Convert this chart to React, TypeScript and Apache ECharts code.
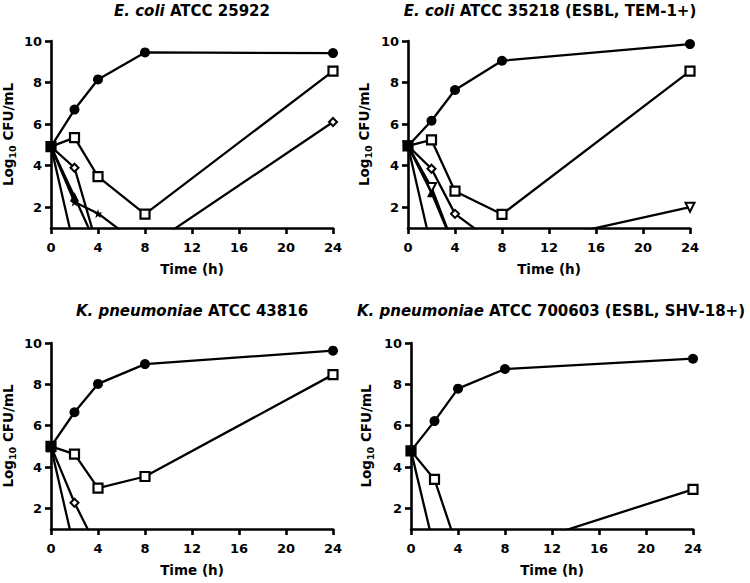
import React, { useEffect, useRef } from "react";
import * as echarts from "echarts";

const times = [0, 2, 4, 8, 24];
const xTickInterval = 4;
const yTicks = [2, 4, 6, 8, 10];

const titles = [
  ["E. coli", " ATCC 25922"],
  ["E. coli", " ATCC 35218 (ESBL, TEM-1+)"],
  ["K. pneumoniae", " ATCC 43816"],
  ["K. pneumoniae", " ATCC 700603 (ESBL, SHV-18+)"],
];

// E. coli ATCC 25922
const ec1Control = [4.92, 6.7, 8.15, 9.45, 9.42];
const ec1Square = [4.92, 5.35, 3.47, 1.67, 8.55];
const ec1Diamond = [4.92, 3.9, 0, 0, 6.1];
const ec1Triangle = [4.92, 2.5, 0, 0, 0];
const ec1Star = [4.92, 2.25, 1.7, 0, 0];
const ec1Zero = [4.92, 0, 0, 0, 0];

// E. coli ATCC 35218
const ec2Control = [4.95, 6.16, 7.64, 9.05, 9.85];
const ec2Square = [4.95, 5.24, 2.77, 1.66, 8.55];
const ec2Diamond = [4.95, 3.85, 1.68, 0, 0];
const ec2Triangle = [4.95, 2.7, 0, 0, 0];
const ec2InvTriangle = [4.95, 2.95, 0, 0, 2.0];
const ec2Zero = [4.95, 0, 0, 0, 0];

// K. pneumoniae ATCC 43816
const kp1Control = [5.0, 6.65, 8.02, 8.98, 9.63];
const kp1Square = [5.0, 4.62, 2.98, 3.54, 8.47];
const kp1Diamond = [5.0, 2.27, 0, 0, 0];
const kp1Zero = [4.95, 0, 0, 0, 0];

// K. pneumoniae ATCC 700603
const kp2Control = [4.78, 6.22, 7.79, 8.74, 9.24];
const kp2Square = [4.78, 3.4, 0, 0, 2.92];
const kp2Zero = [4.78, 0, 0, 0, 0];

const FONT = "'DejaVu Sans', 'Liberation Sans', Arial, sans-serif";
const STAR =
  "path://M50,0 L61,35 L98,35 L68,57 L79,91 L50,70 L21,91 L32,57 L2,35 L39,35 Z";

const grids = [
  { left: 51, top: 41, width: 282, height: 187 },
  { left: 408, top: 41, width: 282, height: 187 },
  { left: 51, top: 343, width: 282, height: 186 },
  { left: 411, top: 343, width: 282, height: 186 },
];
const titlePos = [
  [192, 11],
  [550, 11],
  [192, 311],
  [551, 311],
];
const nameGaps = [34, 35, 34, 36];

type Marker = "circle" | "square" | "diamond" | "triangle" | "invTriangle" | "star" | "fillSquare";

function series(values: number[], grid: number, marker: Marker) {
  const base: any = {
    type: "line",
    xAxisIndex: grid,
    yAxisIndex: grid,
    data: times.map((t, i) => [t, values[i]]),
    clip: true,
    lineStyle: { color: "#000", width: 2.3 },
    itemStyle: { color: "#000", borderColor: "#000", borderWidth: 0 },
    symbolSize: 8,
    showAllSymbol: true,
  };
  const open = { color: "#fff", borderColor: "#000", borderWidth: 2 };
  switch (marker) {
    case "circle":
      base.symbol = "circle";
      base.symbolSize = 10;
      break;
    case "square":
      base.symbol = "rect";
      base.symbolSize = 9;
      base.itemStyle = { ...open, borderWidth: 2.2 };
      break;
    case "diamond":
      base.symbol = "diamond";
      base.symbolSize = 8;
      base.itemStyle = { ...open, borderWidth: 2 };
      break;
    case "triangle":
      base.symbol = "triangle";
      base.symbolSize = 9;
      break;
    case "invTriangle":
      base.symbol = "triangle";
      base.symbolRotate = 180;
      base.symbolSize = 9;
      base.itemStyle = { ...open, borderWidth: 2 };
      break;
    case "star":
      base.symbol = STAR;
      base.symbolSize = 9;
      break;
    case "fillSquare":
      base.symbol = "rect";
      base.symbolSize = 10;
      break;
  }
  return base;
}

export default function App() {
  const ref = useRef<HTMLDivElement>(null);
  useEffect(() => {
    if (!ref.current) return;
    const chart = echarts.init(ref.current, undefined, { renderer: "svg" });
    const axisText = { color: "#000", fontWeight: "bold" as const, fontFamily: FONT, fontSize: 13 };
    const nameText = { color: "#000", fontWeight: "bold" as const, fontFamily: FONT, fontSize: 13.5 };
    const xAxes = grids.map((_, i) => ({
      type: "value",
      gridIndex: i,
      min: 0,
      max: 24,
      interval: xTickInterval,
      name: "Time (h)",
      nameLocation: "middle",
      nameGap: 34,
      nameTextStyle: nameText,
      axisLine: { onZero: false, lineStyle: { color: "#000", width: 2.6 } },
      axisTick: { show: true, length: 6, lineStyle: { color: "#000", width: 2.6 } },
      axisLabel: { ...axisText, margin: 13 },
      splitLine: { show: false },
    }));
    const yAxes = grids.map((_, i) => ({
      type: "value",
      gridIndex: i,
      min: 1,
      max: 10,
      name: "{a|Log}{s|10}{a| CFU/mL}",
      nameLocation: "middle",
      nameGap: nameGaps[i],
      nameTextStyle: {
        rich: {
          a: { ...nameText, lineHeight: 18, verticalAlign: "middle" },
          s: { ...nameText, fontSize: 9.5, lineHeight: 18, verticalAlign: "bottom" },
        },
      },
      axisLine: { onZero: false, lineStyle: { color: "#000", width: 2.6 } },
      axisTick: { show: true, length: 6, customValues: yTicks, lineStyle: { color: "#000", width: 2.6 } },
      axisLabel: { ...axisText, margin: 9, customValues: yTicks },
      splitLine: { show: false },
    }));
    const allSeries = [
      series(ec1Control, 0, "circle"),
      series(ec1Square, 0, "square"),
      series(ec1Diamond, 0, "diamond"),
      series(ec1Triangle, 0, "triangle"),
      series(ec1Star, 0, "star"),
      series(ec1Zero, 0, "fillSquare"),
      series(ec2Control, 1, "circle"),
      series(ec2Square, 1, "square"),
      series(ec2Diamond, 1, "diamond"),
      series(ec2Triangle, 1, "triangle"),
      series(ec2InvTriangle, 1, "invTriangle"),
      series(ec2Zero, 1, "fillSquare"),
      series(kp1Control, 2, "circle"),
      series(kp1Square, 2, "square"),
      series(kp1Diamond, 2, "diamond"),
      series(kp1Zero, 2, "fillSquare"),
      series(kp2Control, 3, "circle"),
      series(kp2Square, 3, "square"),
      series(kp2Zero, 3, "fillSquare"),
    ];
    const titleGraphics = titles.map((t, i) => ({
      type: "text",
      x: titlePos[i][0],
      y: titlePos[i][1],
      style: {
        text: `{i|${t[0]}}{b|${t[1]}}`,
        align: "center",
        verticalAlign: "middle",
        rich: {
          i: { fontStyle: "italic", fontWeight: "bold", fontFamily: FONT, fontSize: 15, fill: "#000" },
          b: { fontWeight: "bold", fontFamily: FONT, fontSize: 15, fill: "#000" },
        },
      },
    }));
    chart.setOption({
      animation: false,
      backgroundColor: "#fff",
      grid: grids.map((g) => ({ ...g, containLabel: false })),
      xAxis: xAxes,
      yAxis: yAxes,
      series: allSeries,
      graphic: titleGraphics,
    });
    return () => chart.dispose();
  }, []);
  return <div ref={ref} style={{ position: "absolute", left: 0, top: 0, width: 750, height: 583 }} />;
}
